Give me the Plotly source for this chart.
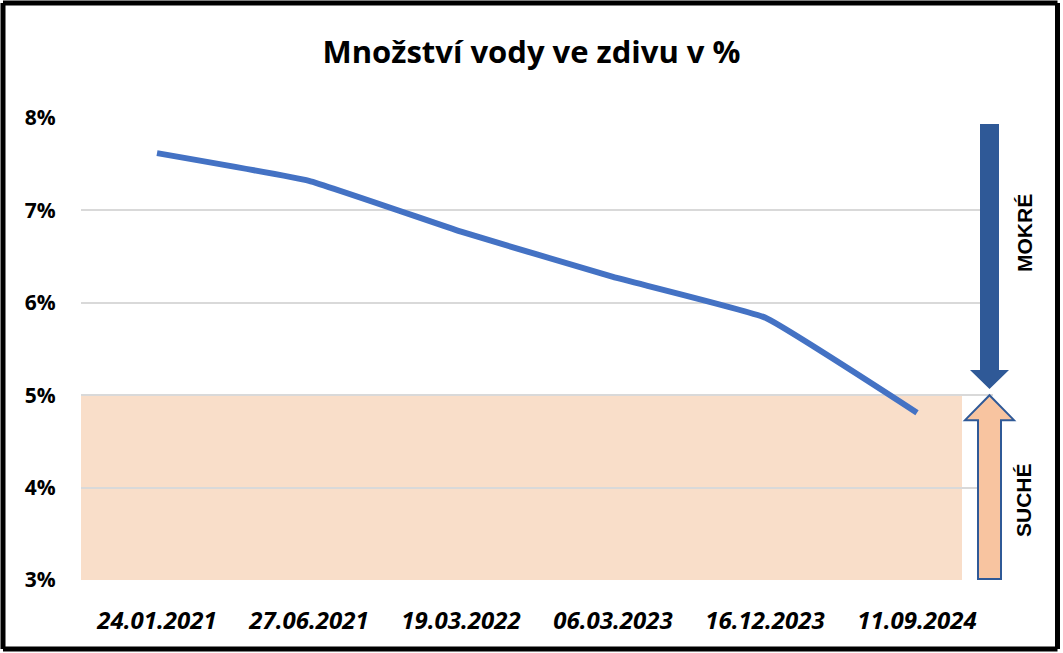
import plotly.graph_objects as go

# measurement dates and water content in masonry (%)
dates = ['24.01.2021', '27.06.2021', '19.03.2022', '06.03.2023', '16.12.2023', '11.09.2024']
water = [7.62, 7.32, 6.77, 6.28, 5.84, 4.81]
y_ticks = [3, 4, 5, 6, 7, 8]
y_labels = [f'{v}%' for v in y_ticks]
dry_limit = 5

LINE_BLUE = '#4472C4'
ARROW_BLUE = '#2F5997'
PEACH = '#F9DEC9'
PEACH_ARROW = '#F8C4A0'


def px_x(px):
    """pixel x -> paper x (plot area spans 81..993 px)"""
    return (px - 81) / 912


def px_y(py):
    """pixel y -> paper y (plot area spans 118..580 px)"""
    return (580 - py) / 462


fig = go.Figure()

fig.add_trace(go.Scatter(
    x=dates,
    y=water,
    mode='lines',
    line=dict(color=LINE_BLUE, width=6, shape='spline', smoothing=0.3),
    hoverinfo='x+y',
    showlegend=False,
))

# dry zone below the limit
fig.add_shape(type='rect', xref='paper', yref='y', x0=0, x1=px_x(962), y0=3, y1=dry_limit,
              fillcolor=PEACH, line=dict(width=0), layer='below')

# "wet" arrow pointing down
a1 = dict(l=px_x(980), r=px_x(999), hl=px_x(970), hr=px_x(1009), c=px_x(989.5))
path1 = (f"M {a1['l']},7.935 L {a1['r']},7.935 L {a1['r']},5.273 L {a1['hr']},5.273 "
         f"L {a1['c']},5.067 L {a1['hl']},5.273 L {a1['l']},5.273 Z")
fig.add_shape(type='path', xref='paper', yref='y', path=path1,
              fillcolor=ARROW_BLUE, line=dict(width=0))

# "dry" arrow pointing up
a2 = dict(l=px_x(978), r=px_x(1001), hl=px_x(965), hr=px_x(1014), c=px_x(989.5))
path2 = (f"M {a2['l']},3.01 L {a2['r']},3.01 L {a2['r']},4.73 L {a2['hr']},4.73 "
         f"L {a2['c']},5.0 L {a2['hl']},4.73 L {a2['l']},4.73 Z")
fig.add_shape(type='path', xref='paper', yref='y', path=path2,
              fillcolor=PEACH_ARROW, line=dict(color=ARROW_BLUE, width=2))

# outer frame, drawn as four edges
fl, fr, ft, fb = px_x(3), px_x(1057.5), px_y(3), px_y(649)
for x0, y0, x1, y1 in [(fl, ft, fr, ft), (fr, ft, fr, fb), (fr, fb, fl, fb), (fl, fb, fl, ft)]:
    fig.add_shape(type='line', xref='paper', yref='paper', x0=x0, y0=y0, x1=x1, y1=y1,
                  line=dict(color='black', width=5))

label_font = dict(family='Liberation Sans, Arial', size=21, color='black', weight='bold')
fig.add_annotation(text='MOKRÉ', xref='paper', yref='paper', x=px_x(1025), y=px_y(233),
                   xanchor='center', yanchor='middle',
                   textangle=-90, showarrow=False, font=label_font)
fig.add_annotation(text='SUCHÉ', xref='paper', yref='paper', x=px_x(1023), y=px_y(500),
                   xanchor='center', yanchor='middle',
                   textangle=-90, showarrow=False, font=label_font)

fig.update_layout(
    width=1063,
    height=653,
    margin=dict(l=81, r=70, t=118, b=73),
    paper_bgcolor='white',
    plot_bgcolor='white',
    title=dict(text='Množství vody ve zdivu v %', x=0.5, xanchor='center',
               y=1 - 52 / 653, yanchor='middle',
               font=dict(family='Open Sans', size=31, color='black', weight='bold')),
    xaxis=dict(
        type='category',
        range=[-0.5, 5.5],
        showgrid=False,
        showline=False,
        zeroline=False,
        ticks='outside',
        ticklen=19,
        tickcolor='rgba(0,0,0,0)',
        tickfont=dict(family='Open Sans', size=24, color='black', weight='bold', style='italic'),
    ),
    yaxis=dict(
        range=[3, 8],
        tickmode='array',
        tickvals=y_ticks,
        ticktext=y_labels,
        showgrid=True,
        gridcolor='#D9D9D9',
        gridwidth=2,
        zeroline=False,
        showline=False,
        ticks='outside',
        ticklen=20,
        tickcolor='rgba(0,0,0,0)',
        tickfont=dict(family='Open Sans', size=21, color='black', weight='bold'),
    ),
)

fig.write_html('out.html', config={'displayModeBar': False},
               post_script="document.body.style.margin='0';")
